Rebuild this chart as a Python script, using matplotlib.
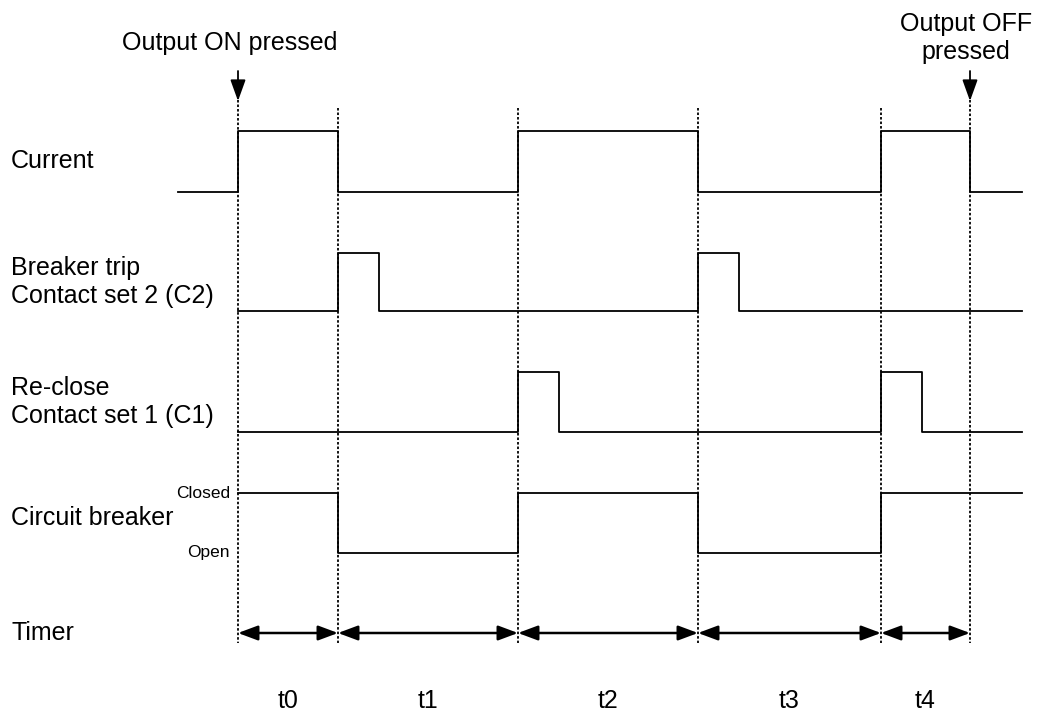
import matplotlib
matplotlib.use("Agg")
import matplotlib.pyplot as plt

plt.rcParams['font.family'] = ['Liberation Sans', 'DejaVu Sans']

# event times (same units as the drawing's horizontal axis)
events = [238, 338, 518, 698, 881, 970]
t_start = 178
t_end = 1022
pulse = 41

# signal step data (time, level) - level 1 = high
current_t = [t_start, 238, 338, 518, 698, 881, 970, t_end]
current_v = [0, 1, 0, 1, 0, 1, 0, 0]
c2_t = [238, 338, 338 + pulse, 698, 698 + pulse, t_end]
c2_v = [0, 1, 0, 1, 0, 0]
c1_t = [238, 518, 518 + pulse, 881, 881 + pulse, t_end]
c1_v = [0, 1, 0, 1, 0, 0]
cb_t = [238, 338, 518, 698, 881, t_end]
cb_v = [1, 0, 1, 0, 1, 1]

timer_labels = ["t0", "t1", "t2", "t3", "t4"]
row_labels = ["Current", "Breaker trip\nContact set 2 (C2)",
              "Re-close\nContact set 1 (C1)", "Circuit breaker", "Timer"]

# layout: (baseline y, amplitude) per row, in figure pixels from top
rows = [(192, 61), (311, 58), (432, 60), (553, 60)]
label_y = [161, 282, 402, 518, 633]
timer_y = 633
fs = 18

fig = plt.figure(figsize=(10.38, 7.15), dpi=100)
ax = fig.add_axes([0, 0, 1, 1])
ax.set_xlim(0, 1038)
ax.set_ylim(715, 0)
ax.axis('off')

lw = 1.3
for (ts, vs), (base, amp) in zip([(current_t, current_v), (c2_t, c2_v),
                                  (c1_t, c1_v), (cb_t, cb_v)], rows):
    ax.plot(ts, [base - v * amp for v in vs], drawstyle='steps-post',
            color='black', lw=lw)

# dotted guide lines
for i, x in enumerate(events):
    top = 100 if i in (0, len(events) - 1) else 108
    ax.plot([x, x], [top, 643], color='black', lw=1.3,
            linestyle=(0, (1.4, 1.1)))

# timer arrows
for a, b, lab in zip(events[:-1], events[1:], timer_labels):
    ax.annotate("", xy=(b, timer_y), xytext=(a, timer_y),
                arrowprops=dict(arrowstyle='<|-|>,head_length=0.75,head_width=0.28',
                                color='black', lw=1.8, shrinkA=0, shrinkB=0,
                                mutation_scale=16))
    ax.text((a + b) / 2, 701, lab, ha='center', va='center', fontsize=fs)

# row labels
for lab, y in zip(row_labels, label_y):
    ax.text(11, y, lab, ha='left', va='center', fontsize=fs,
            linespacing=1.25)

ax.text(230, 493, "Closed", ha='right', va='center', fontsize=12.5)
ax.text(230, 553, "Open", ha='right', va='center', fontsize=12.5)

# button press markers
ax.text(230, 43, "Output ON pressed", ha='center', va='center', fontsize=fs)
ax.text(966, 38, "Output OFF\npressed", ha='center', va='center',
        fontsize=fs, linespacing=1.2)
for x in (events[0], events[-1]):
    ax.annotate("", xy=(x, 101), xytext=(x, 71),
                arrowprops=dict(arrowstyle='-|>,head_length=1.0,head_width=0.36',
                                color='black', lw=1.3, shrinkA=0, shrinkB=0,
                                mutation_scale=13))

fig.savefig("out.png", dpi=100)
